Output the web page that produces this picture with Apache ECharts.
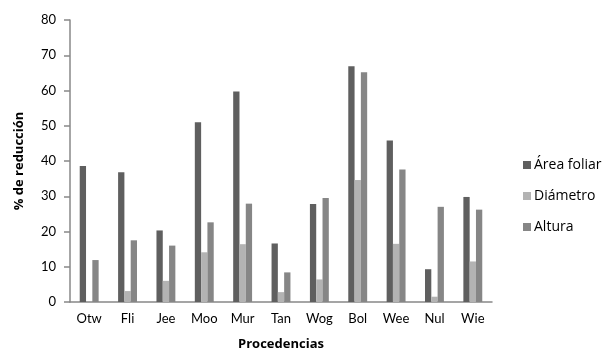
<!DOCTYPE html>
<html><head><meta charset="utf-8">
<script src="https://cdn.jsdelivr.net/npm/echarts@6/dist/echarts.min.js"></script>
<style>html,body{margin:0;padding:0;background:#fff}#c{width:609px;height:358px}</style>
</head><body><div id="c"></div>
<script>
var categories = ["Otw","Fli","Jee","Moo","Mur","Tan","Wog","Bol","Wee","Nul","Wie"];
var areaFoliar = [38.6,36.8,20.3,51.0,59.7,16.6,27.8,66.9,45.8,9.3,29.8];
var diametro   = [0,3.1,6.0,14.1,16.4,2.8,6.4,34.6,16.5,1.5,11.5];
var altura     = [11.9,17.5,16.0,22.6,27.9,8.4,29.5,65.2,37.6,27.0,26.2];
var seriesNames = ["Área foliar","Diámetro","Altura"];
var font = "Lato, 'Open Sans', sans-serif";
var tfont = "'Open Sans', sans-serif";
var chart = echarts.init(document.getElementById('c'));
chart.setOption({
  animation:false,
  grid:{left:70,top:20,width:422,height:282},
  legend:{orient:'vertical',left:518,top:153,itemWidth:8,itemHeight:8,itemGap:17,icon:'rect',
    textStyle:{fontFamily:tfont,fontSize:14,color:'#000',padding:[0,0,0,-2]},data:seriesNames},
  xAxis:{type:'category',data:categories,
    axisLine:{lineStyle:{color:'#888',width:1.5}},axisTick:{show:false},
    axisLabel:{fontFamily:font,fontSize:13,color:'#000',margin:10},
    name:'Procedencias',nameLocation:'middle',nameGap:36,
    nameTextStyle:{fontFamily:tfont,fontSize:13,fontWeight:'bold',color:'#000'}},
  yAxis:{type:'value',min:0,max:80,interval:10,
    axisLine:{show:true,lineStyle:{color:'#888',width:1.5}},
    axisTick:{show:true,length:6,lineStyle:{color:'#888',width:1.5}},
    splitLine:{show:false},
    axisLabel:{fontFamily:font,fontSize:13,color:'#000',margin:14},
    name:'% de reducción',nameLocation:'middle',nameGap:44,nameRotate:90,
    nameTextStyle:{fontFamily:tfont,fontSize:13,fontWeight:'bold',color:'#000'}},
  series:[
    {name:seriesNames[0],type:'bar',data:areaFoliar,barWidth:6.3,barGap:'0%',itemStyle:{color:'#5f5f5f'}},
    {name:seriesNames[1],type:'bar',data:diametro,barWidth:6.3,barGap:'0%',itemStyle:{color:'#b3b3b3'}},
    {name:seriesNames[2],type:'bar',data:altura,barWidth:6.3,barGap:'0%',itemStyle:{color:'#868686'}}
  ]
});
</script></body></html>
